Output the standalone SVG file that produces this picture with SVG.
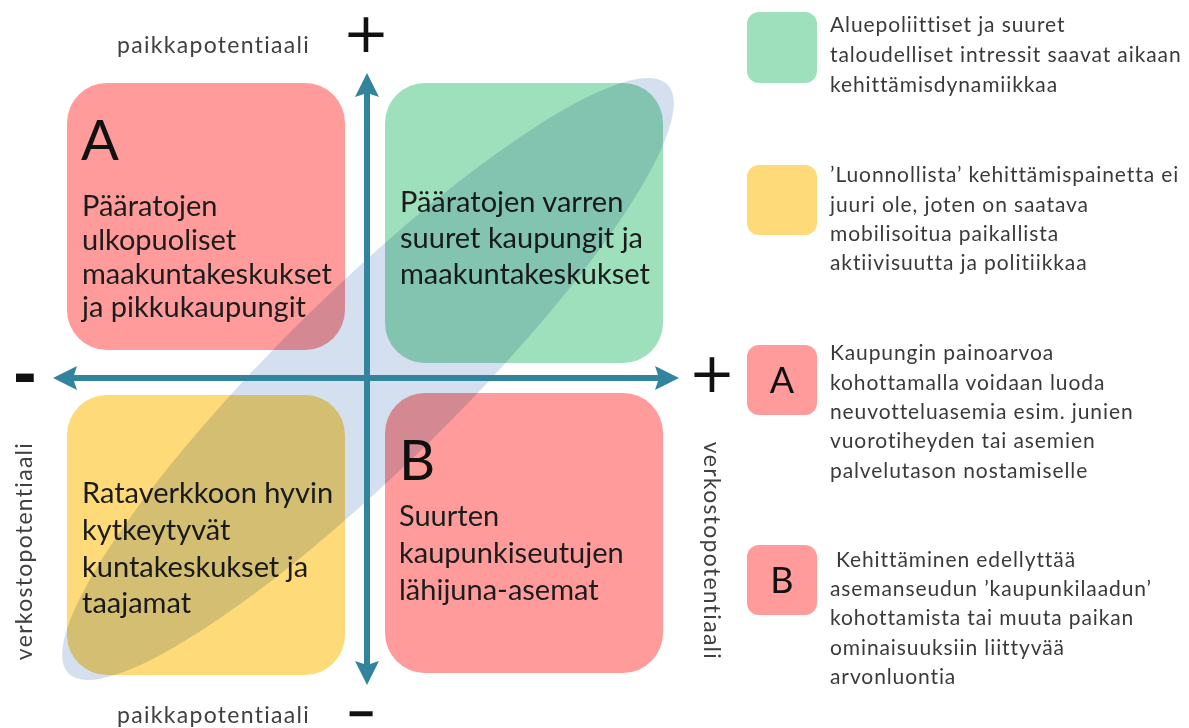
<svg xmlns="http://www.w3.org/2000/svg" width="1189" height="728" viewBox="0 0 1189 728">
<defs>
<style>
.red{fill:#ff9b9b}
.green{fill:#9de0bb}
.yellow{fill:#ffda78}
.bt{font-family:Lato,"Open Sans","Liberation Sans",sans-serif;font-size:29px;fill:#1c1c1c}
.big{font-family:Lato,"Open Sans","Liberation Sans",sans-serif;font-size:56px;fill:#111}
.lt{font-family:Lato,"Open Sans","Liberation Sans",sans-serif;font-size:21px;letter-spacing:0.9px;fill:#3a3a3a}
.ll{font-family:Lato,"Open Sans","Liberation Sans",sans-serif;font-size:36px;fill:#111;text-anchor:middle}
.ax{font-family:Lato,"Open Sans","Liberation Sans",sans-serif;font-size:23px;letter-spacing:1.3px;fill:#404040}
.plus{font-family:"DejaVu Sans",sans-serif;font-size:56px;fill:#111;text-anchor:middle}
.minus{font-family:"Liberation Sans",Arial,sans-serif;font-size:70px;font-weight:bold;fill:#111;text-anchor:middle}
.dash{font-family:"Liberation Sans",Arial,sans-serif;font-size:26px;font-weight:bold;fill:#111;stroke:#111;stroke-width:2.5;text-anchor:middle}
.axis{stroke:#31849b;stroke-width:6;fill:none}
</style>
<marker id="ah" markerUnits="userSpaceOnUse" viewBox="0 0 24 24" markerWidth="24" markerHeight="24" refX="4" refY="12" orient="auto-start-reverse">
<path d="M0,0 L24,12 L0,24 L4,12 z" fill="#31849b"/>
</marker>
</defs>
<rect width="1189" height="728" fill="#fff"/>

<g id="quadrant-A">
<rect class="red" x="67" y="83" width="278" height="267" rx="40"/>
<text class="big" x="81" y="160">A</text>
<text class="bt" x="82" y="216">Pääratojen</text>
<text class="bt" x="82" y="250">ulkopuoliset</text>
<text class="bt" x="82" y="284">maakuntakeskukset</text>
<text class="bt" x="82" y="317">ja pikkukaupungit</text>
</g>
<g id="quadrant-green">
<rect class="green" x="385" y="83" width="278" height="280" rx="40"/>
<text class="bt" x="400" y="212">Pääratojen varren</text>
<text class="bt" x="400" y="248">suuret kaupungit ja</text>
<text class="bt" x="400" y="284">maakuntakeskukset</text>
</g>
<g id="quadrant-yellow">
<rect class="yellow" x="67" y="395" width="278" height="280" rx="40"/>
<text class="bt" x="82" y="503">Rataverkkoon hyvin</text>
<text class="bt" x="82" y="540">kytkeytyvät</text>
<text class="bt" x="82" y="577">kuntakeskukset ja</text>
<text class="bt" x="82" y="613">taajamat</text>
</g>
<g id="quadrant-B">
<rect class="red" x="385" y="393" width="278" height="280" rx="40"/>
<text class="big" x="399" y="480">B</text>
<text class="bt" x="399" y="526">Suurten</text>
<text class="bt" x="399" y="563">kaupunkiseutujen</text>
<text class="bt" x="399" y="600">lähijuna-asemat</text>
</g>

<ellipse cx="368" cy="379" rx="420" ry="88" transform="rotate(-44.5 368 379)" fill="#d4dff0" style="mix-blend-mode:multiply"/>

<g id="connectors">
<line class="axis" x1="367" y1="665" x2="367" y2="93" marker-start="url(#ah)" marker-end="url(#ah)"/>
<line class="axis" x1="73" y1="378" x2="659" y2="378" marker-start="url(#ah)" marker-end="url(#ah)"/>
</g>

<g id="axis-labels">
<text class="ax" x="117" y="53">paikkapotentiaali</text>
<text class="ax" x="117" y="723">paikkapotentiaali</text>
<text class="ax" text-anchor="middle" transform="translate(32,551) rotate(-90)">verkostopotentiaali</text>
<text class="ax" text-anchor="middle" transform="translate(704,551) rotate(90)">verkostopotentiaali</text>
<text class="plus" x="366" y="52">+</text>
<text class="plus" x="712" y="392">+</text>
<text class="minus" x="25" y="396">-</text>
<text class="dash" transform="translate(361,721) scale(1.5,1)">–</text>
</g>

<g id="legend-green">
<rect class="green" x="747" y="12" width="70" height="71" rx="12"/>
<text class="lt" x="830" y="32">Aluepoliittiset ja suuret</text>
<text class="lt" x="830" y="62">taloudelliset intressit saavat aikaan</text>
<text class="lt" x="830" y="92">kehittämisdynamiikkaa</text>
</g>
<g id="legend-yellow">
<rect class="yellow" x="747" y="165" width="70" height="70" rx="12"/>
<text class="lt" x="830" y="182">’Luonnollista’ kehittämispainetta ei</text>
<text class="lt" x="830" y="212">juuri ole, joten on saatava</text>
<text class="lt" x="830" y="241">mobilisoitua paikallista</text>
<text class="lt" x="830" y="270">aktiivisuutta ja politiikkaa</text>
</g>
<g id="legend-A">
<rect class="red" x="747" y="345" width="70" height="70" rx="12"/>
<text class="ll" x="782" y="393">A</text>
<text class="lt" x="830" y="360">Kaupungin painoarvoa</text>
<text class="lt" x="830" y="390">kohottamalla voidaan luoda</text>
<text class="lt" x="830" y="419">neuvotteluasemia esim. junien</text>
<text class="lt" x="830" y="448">vuorotiheyden tai asemien</text>
<text class="lt" x="830" y="478">palvelutason nostamiselle</text>
</g>
<g id="legend-B">
<rect class="red" x="747" y="545" width="70" height="70" rx="12"/>
<text class="ll" x="782" y="593">B</text>
<text class="lt" x="836" y="567">Kehittäminen edellyttää</text>
<text class="lt" x="830" y="596">asemanseudun ’kaupunkilaadun’</text>
<text class="lt" x="830" y="625">kohottamista tai muuta paikan</text>
<text class="lt" x="830" y="655">ominaisuuksiin liittyvää</text>
<text class="lt" x="830" y="684">arvonluontia</text>
</g>
</svg>
